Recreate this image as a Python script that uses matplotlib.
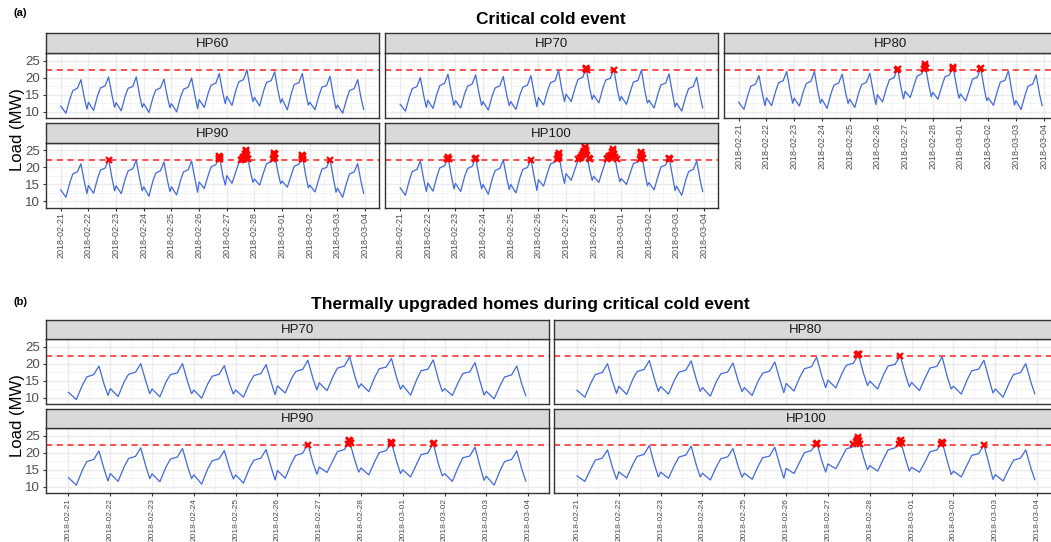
import numpy as np
import matplotlib
matplotlib.use('Agg')
import matplotlib.pyplot as plt

plt.rcParams['font.family'] = ['Liberation Sans', 'DejaVu Sans']

# x axis: days since 2018-02-21 00:00
DATES = ['2018-02-21', '2018-02-22', '2018-02-23', '2018-02-24', '2018-02-25', '2018-02-26',
         '2018-02-27', '2018-02-28', '2018-03-01', '2018-03-02', '2018-03-03', '2018-03-04']
# hours of the day at which the load was read
HOURS = [0, 4.5, 8, 10.5, 14.5, 17.5, 20.5, 22.7]
THRESHOLD = 22.25

# one row per day: load (MW) at each of HOURS
hp60_a = [[11.7, 9.6, 13.8, 16.2, 16.9, 19.4, 14.0, 10.8],
          [12.8, 10.4, 14.8, 17.0, 17.6, 20.2, 14.8, 11.3],
          [12.7, 10.3, 14.7, 16.9, 17.4, 20.2, 14.7, 11.3],
          [12.4, 9.8, 14.2, 16.4, 17.0, 19.6, 14.3, 11.2],
          [12.4, 10.0, 14.4, 16.6, 17.2, 19.9, 14.5, 10.9],
          [13.6, 11.3, 15.6, 17.8, 18.4, 21.2, 15.6, 12.4],
          [14.5, 11.9, 16.4, 18.8, 19.4, 22.3, 16.4, 13.0],
          [14.2, 11.7, 16.2, 18.6, 19.1, 21.7, 16.0, 12.6],
          [13.8, 10.6, 15.4, 18.0, 18.5, 21.2, 15.4, 12.0],
          [12.8, 10.6, 14.8, 17.2, 17.7, 20.4, 14.7, 10.9],
          [12.0, 9.6, 13.8, 16.2, 16.8, 19.4, 13.9, 10.7]]
hp70_a = [[12.2, 10.2, 14.4, 16.8, 17.4, 20.0, 14.6, 11.3],
          [13.4, 11.0, 15.4, 17.7, 18.3, 21.0, 15.4, 11.9],
          [13.3, 11.1, 15.3, 17.5, 18.1, 20.8, 15.3, 11.9],
          [13.0, 10.5, 14.8, 17.0, 17.6, 20.3, 14.9, 11.8],
          [13.0, 10.7, 15.0, 17.2, 17.8, 20.6, 15.1, 11.5],
          [14.2, 12.0, 16.2, 18.5, 19.1, 22.1, 16.3, 13.0],
          [15.2, 13.0, 17.1, 19.5, 20.1, 22.8, 17.0, 13.6],
          [14.9, 12.6, 16.9, 19.3, 19.8, 22.5, 16.7, 13.2],
          [14.5, 12.2, 16.1, 18.7, 19.2, 22.2, 16.1, 12.6],
          [13.4, 11.1, 15.4, 17.9, 18.4, 21.1, 15.3, 11.4],
          [12.6, 10.2, 14.4, 16.8, 17.4, 20.1, 14.5, 11.2]]
hp80_a = [[12.8, 10.7, 15.0, 17.5, 18.1, 20.6, 15.2, 11.8],
          [14.1, 11.8, 16.1, 18.5, 19.1, 21.8, 16.1, 12.5],
          [14.0, 11.7, 16.0, 18.3, 18.9, 21.8, 16.0, 12.5],
          [13.7, 11.0, 15.5, 17.8, 18.4, 21.0, 15.6, 12.4],
          [13.7, 11.3, 15.7, 18.0, 18.6, 21.3, 15.8, 12.1],
          [15.0, 12.9, 17.0, 19.4, 20.0, 22.7, 17.1, 13.8],
          [16.0, 14.2, 18.0, 20.5, 21.1, 23.5, 17.9, 14.4],
          [15.7, 13.7, 17.7, 20.2, 20.8, 23.3, 17.6, 14.0],
          [15.2, 13.2, 16.9, 19.6, 20.1, 22.8, 16.9, 13.3],
          [14.1, 11.9, 16.1, 18.7, 19.2, 22.0, 16.0, 12.0],
          [13.3, 10.7, 15.0, 17.5, 18.1, 20.8, 15.1, 11.8]]
hp90_a = [[13.4, 11.2, 15.6, 18.1, 18.7, 21.1, 15.8, 12.3],
          [14.7, 12.4, 16.8, 19.2, 19.8, 22.4, 16.8, 13.1],
          [14.6, 12.3, 16.7, 19.0, 19.6, 22.1, 16.6, 13.1],
          [14.3, 11.5, 16.1, 18.4, 19.0, 21.6, 16.2, 12.9],
          [14.3, 11.9, 16.3, 18.7, 19.3, 21.9, 16.4, 12.7],
          [15.7, 13.8, 17.8, 20.2, 20.8, 23.5, 17.8, 14.8],
          [17.6, 15.3, 18.9, 21.4, 22.0, 24.0, 18.7, 15.6],
          [16.6, 14.8, 18.6, 21.1, 21.7, 23.8, 18.4, 15.2],
          [16.0, 14.2, 17.8, 20.4, 20.9, 23.5, 17.6, 14.0],
          [14.8, 12.8, 16.8, 19.5, 20.0, 22.4, 16.7, 12.7],
          [13.9, 11.2, 15.6, 18.1, 18.7, 21.1, 15.7, 12.4]]
hp100_a = [[14.0, 11.8, 16.3, 18.8, 19.4, 21.9, 16.4, 12.9],
           [15.4, 13.0, 17.5, 19.9, 20.5, 23.0, 17.4, 13.7],
           [15.3, 12.9, 17.4, 19.7, 20.3, 23.0, 17.3, 13.7],
           [15.0, 12.1, 16.8, 19.1, 19.7, 22.2, 16.8, 13.5],
           [15.0, 12.5, 17.0, 19.4, 20.0, 22.4, 17.0, 13.2],
           [16.4, 14.5, 18.5, 21.0, 21.6, 24.3, 18.5, 15.3],
           [18.2, 16.2, 19.7, 22.2, 22.8, 25.0, 19.4, 16.2],
           [17.4, 15.6, 19.4, 21.9, 22.5, 24.8, 19.1, 15.8],
           [16.7, 15.0, 18.6, 21.1, 21.7, 24.3, 18.3, 14.6],
           [15.5, 13.4, 17.5, 20.2, 20.7, 23.0, 17.4, 13.2],
           [14.5, 11.8, 16.3, 18.8, 19.4, 21.9, 16.3, 12.9]]

hp70_b = [[11.6, 9.5, 13.7, 16.1, 16.8, 19.3, 13.9, 10.7],
          [12.7, 10.4, 14.7, 16.9, 17.5, 20.0, 14.7, 11.2],
          [12.6, 10.3, 14.6, 16.8, 17.3, 20.0, 14.6, 11.2],
          [12.3, 9.9, 14.1, 16.3, 16.9, 19.4, 14.2, 11.1],
          [12.3, 10.2, 14.3, 16.5, 17.1, 19.7, 14.4, 10.9],
          [13.5, 11.4, 15.5, 17.7, 18.3, 21.0, 15.5, 12.3],
          [14.4, 12.1, 16.3, 18.7, 19.3, 22.0, 16.3, 12.9],
          [14.1, 11.8, 16.1, 18.5, 19.0, 21.5, 15.9, 12.5],
          [13.7, 10.8, 15.3, 17.9, 18.4, 21.1, 15.3, 11.9],
          [12.7, 10.7, 14.7, 17.1, 17.6, 20.3, 14.6, 10.8],
          [11.9, 9.7, 13.7, 16.1, 16.7, 19.3, 13.8, 10.6]]
hp80_b = [[12.2, 10.2, 14.4, 16.8, 17.4, 20.0, 14.6, 11.3],
          [13.4, 11.0, 15.4, 17.7, 18.3, 20.9, 15.4, 11.9],
          [13.3, 11.1, 15.3, 17.5, 18.1, 20.8, 15.3, 11.9],
          [13.0, 10.5, 14.8, 17.0, 17.6, 20.2, 14.9, 11.8],
          [13.0, 10.7, 15.0, 17.2, 17.8, 20.5, 15.1, 11.5],
          [14.2, 12.0, 16.2, 18.5, 19.1, 21.9, 16.3, 13.0],
          [15.2, 12.9, 17.1, 19.5, 20.1, 22.6, 17.0, 13.6],
          [14.9, 12.6, 16.9, 19.3, 19.8, 22.3, 16.7, 13.2],
          [14.5, 12.1, 16.1, 18.7, 19.2, 22.0, 16.1, 12.6],
          [13.4, 11.1, 15.4, 17.9, 18.4, 21.0, 15.3, 11.4],
          [12.6, 10.2, 14.4, 16.8, 17.4, 20.0, 14.5, 11.2]]
hp90_b = [[12.7, 10.5, 14.9, 17.4, 18.0, 20.5, 15.1, 11.7],
          [13.9, 11.6, 15.9, 18.3, 18.9, 21.4, 15.9, 12.4],
          [13.8, 11.5, 15.8, 18.1, 18.7, 21.2, 15.8, 12.4],
          [13.5, 10.8, 15.3, 17.6, 18.2, 20.6, 15.4, 12.3],
          [13.5, 11.1, 15.5, 17.8, 18.4, 20.9, 15.6, 12.0],
          [14.8, 12.5, 16.8, 19.2, 19.8, 22.6, 16.9, 13.7],
          [15.8, 14.2, 17.8, 20.3, 20.9, 23.2, 17.7, 14.3],
          [15.5, 13.5, 17.5, 20.0, 20.6, 23.0, 17.4, 13.9],
          [15.0, 12.9, 16.7, 19.4, 19.9, 22.7, 16.7, 13.2],
          [13.9, 11.6, 15.9, 18.5, 19.0, 21.6, 15.8, 11.9],
          [13.1, 10.5, 14.9, 17.4, 18.0, 20.5, 15.0, 11.7]]
hp100_b = [[13.2, 11.6, 15.3, 17.8, 18.4, 20.8, 15.4, 12.2],
           [14.4, 12.6, 16.5, 18.9, 19.5, 22.1, 16.4, 12.9],
           [14.3, 12.5, 16.4, 18.7, 19.3, 21.9, 16.3, 12.9],
           [14.0, 12.0, 15.9, 18.2, 18.8, 21.2, 15.9, 12.8],
           [14.0, 12.2, 16.1, 18.5, 19.0, 21.6, 16.1, 12.5],
           [15.4, 13.9, 17.5, 20.0, 20.6, 23.1, 17.5, 14.3],
           [16.7, 15.3, 18.6, 21.1, 21.7, 24.0, 18.5, 15.0],
           [16.2, 14.6, 18.3, 20.8, 21.4, 23.6, 18.2, 14.6],
           [15.7, 14.3, 17.6, 20.2, 20.8, 23.2, 17.5, 13.6],
           [14.6, 12.9, 16.6, 19.2, 19.7, 22.3, 16.5, 12.2],
           [13.6, 11.7, 15.4, 17.8, 18.4, 20.8, 15.4, 12.1]]

# loads above the limit (x marks): day offset, MW
hp60_a_mt, hp60_a_mv = [], []
hp70_a_mt = [6.71, 6.73, 6.74, 6.75, 7.74]
hp70_a_mv = [22.4, 22.9, 22.6, 22.3, 22.3]
hp80_a_mt = [5.72, 5.73, 6.70, 6.71, 6.72, 6.73, 6.74, 7.72, 7.73, 7.74, 8.72, 8.73]
hp80_a_mv = [22.3, 22.6, 22.5, 23.4, 23.9, 23.1, 22.7, 22.5, 23.2, 22.8, 22.4, 22.8]
hp90_a_mt = [1.73, 5.71, 5.72, 5.73, 5.74, 5.75,
             6.50, 6.54, 6.58, 6.60, 6.62, 6.65, 6.67, 6.68, 6.70, 6.71, 6.72, 6.74, 6.76,
             7.66, 7.69, 7.70, 7.72, 7.73, 7.75, 8.70, 8.72, 8.73, 8.74, 8.76, 9.73]
hp90_a_mv = [22.3, 22.4, 22.9, 23.5, 23.0, 22.6,
             22.3, 22.4, 22.6, 23.0, 22.5, 23.4, 24.0, 24.7, 25.1, 24.3, 23.6, 22.8, 22.4,
             22.4, 23.0, 23.6, 24.3, 23.9, 22.9, 22.5, 23.2, 23.8, 23.3, 22.6, 22.3]
hp100_a_mt = [1.71, 1.73, 1.75, 2.72, 2.74, 4.72,
              5.69, 5.71, 5.72, 5.73, 5.74, 5.76,
              6.45, 6.50, 6.55, 6.58, 6.62, 6.65, 6.68, 6.70, 6.72, 6.74, 6.77, 6.82, 6.87,
              7.47, 7.52, 7.57, 7.62, 7.66, 7.69, 7.71, 7.74, 7.78, 7.85,
              8.69, 8.71, 8.72, 8.73, 8.75, 8.77, 9.71, 9.73, 9.75]
hp100_a_mv = [22.5, 23.0, 22.6, 22.4, 22.9, 22.3,
              22.4, 23.1, 23.8, 24.3, 23.5, 22.7,
              22.4, 22.8, 23.2, 23.6, 24.2, 24.8, 25.6, 26.1, 25.2, 24.5, 23.6, 22.9, 22.4,
              22.4, 22.7, 23.3, 23.8, 24.5, 25.3, 24.8, 23.9, 23.0, 22.5,
              22.5, 23.3, 24.2, 24.6, 23.6, 22.7, 22.4, 22.9, 22.6]
hp70_b_mt, hp70_b_mv = [], []
hp80_b_mt = [6.70, 6.72, 6.73, 6.74, 7.73]
hp80_b_mv = [22.4, 22.8, 22.6, 22.9, 22.3]
hp90_b_mt = [5.73, 6.69, 6.71, 6.72, 6.73, 6.75, 7.71, 7.72, 7.74, 8.72, 8.74]
hp90_b_mv = [22.3, 22.6, 23.3, 23.8, 23.4, 22.8, 22.5, 23.1, 22.8, 22.4, 22.7]
hp100_b_mt = [5.71, 5.73, 5.74, 6.60, 6.66, 6.69, 6.71, 6.72, 6.74, 6.77,
              7.71, 7.73, 7.74, 7.76, 8.71, 8.73, 8.75, 9.73]
hp100_b_mv = [22.4, 22.9, 22.6, 22.4, 23.0, 23.8, 24.6, 24.1, 23.3, 22.6,
              22.5, 23.4, 23.8, 22.9, 22.5, 23.2, 22.8, 22.3]

W, H = 1051, 542
fig = plt.figure(figsize=(W / 100, H / 100), dpi=100)


def box(x0, y0, x1, y1):
    return [x0 / W, 1 - y1 / H, (x1 - x0) / W, (y1 - y0) / H]


def panel(name, rows, mt, mv, x0, x1, ys, yp, yb, xlab, ylab, xfs=6.5):
    ax = fig.add_axes(box(x0, yp, x1, yb))
    t = [d + h / 24 for d in range(len(rows)) for h in HOURS]
    v = [val for r in rows for val in r]
    ax.plot(t, v, color='#4169E1', lw=0.9, zorder=3)
    ax.axhline(THRESHOLD, color='#FF2020', lw=1.1, ls=(0, (4, 3)), zorder=2)
    ax.plot(mt, mv, 'x', color='#FF0000', ms=5, mew=1.6, zorder=4)
    ax.set_xlim(-0.55, 11.5)
    ax.set_ylim(8.2, 27.2)
    ax.set_xticks(range(len(DATES)))
    ax.set_xticks(np.arange(0.5, 11, 1), minor=True)
    ax.set_yticks([10, 15, 20, 25])
    ax.set_yticks([12.5, 17.5, 22.5], minor=True)
    ax.grid(which='major', color='#EBEBEB', lw=1.0, zorder=0)
    ax.grid(which='minor', color='#F2F2F2', lw=0.6, zorder=0)
    ax.set_axisbelow(True)
    for s in ax.spines.values():
        s.set_color('#333333')
        s.set_linewidth(1.0)
    ax.tick_params(which='minor', length=0)
    ax.tick_params(which='major', length=2.5, width=0.8, color='#333333', labelcolor='#4D4D4D', pad=1.5)
    if xlab:
        ax.set_xticklabels(DATES, rotation=90, fontsize=xfs)
        ax.tick_params(axis='x', pad=1)
    else:
        ax.tick_params(axis='x', which='major', length=0, labelbottom=False)
    if ylab:
        ax.set_yticklabels(['10', '15', '20', '25'], fontsize=9.5)
    else:
        ax.tick_params(axis='y', which='major', length=0, labelleft=False)
    st = fig.add_axes(box(x0, ys, x1, yp))
    st.set_facecolor('#D9D9D9')
    st.set_xticks([])
    st.set_yticks([])
    for s in st.spines.values():
        s.set_color('#333333')
        s.set_linewidth(1.0)
    st.text(0.5, 0.45, name, ha='center', va='center', fontsize=9.5, color='#1A1A1A', transform=st.transAxes)


# (a) critical cold event
cols_a = [(45.5, 379), (385, 718), (723.5, 1057.5)]
rows_a = [(33, 53, 118), (123, 143, 207.5)]
panel('HP60', hp60_a, hp60_a_mt, hp60_a_mv, *cols_a[0], *rows_a[0], False, True)
panel('HP70', hp70_a, hp70_a_mt, hp70_a_mv, *cols_a[1], *rows_a[0], False, False)
panel('HP80', hp80_a, hp80_a_mt, hp80_a_mv, *cols_a[2], *rows_a[0], True, False)
panel('HP90', hp90_a, hp90_a_mt, hp90_a_mv, *cols_a[0], *rows_a[1], True, True)
panel('HP100', hp100_a, hp100_a_mt, hp100_a_mv, *cols_a[1], *rows_a[1], True, False)

# (b) thermally upgraded homes
cols_b = [(45.5, 549), (554, 1058)]
rows_b = [(320, 339, 404), (409, 428, 493)]
panel('HP70', hp70_b, hp70_b_mt, hp70_b_mv, *cols_b[0], *rows_b[0], False, True)
panel('HP80', hp80_b, hp80_b_mt, hp80_b_mv, *cols_b[1], *rows_b[0], False, False)
panel('HP90', hp90_b, hp90_b_mt, hp90_b_mv, *cols_b[0], *rows_b[1], True, True, 6.0)
panel('HP100', hp100_b, hp100_b_mt, hp100_b_mv, *cols_b[1], *rows_b[1], True, False, 6.0)

fig.text(14 / W, 1 - 13 / H, '(a)', fontsize=8, weight='bold', va='center')
fig.text(551 / W, 1 - 19 / H, 'Critical cold event', fontsize=12.5, weight='bold', ha='center', va='center')
fig.text(18 / W, 1 - 130 / H, 'Load (MW)', fontsize=12, rotation=90, ha='center', va='center')
fig.text(14 / W, 1 - 302 / H, '(b)', fontsize=8, weight='bold', va='center')
fig.text(530 / W, 1 - 305 / H, 'Thermally upgraded homes during critical cold event', fontsize=12.5,
         weight='bold', ha='center', va='center')
fig.text(18 / W, 1 - 416 / H, 'Load (MW)', fontsize=12, rotation=90, ha='center', va='center')

fig.savefig('out.png', dpi=100)
